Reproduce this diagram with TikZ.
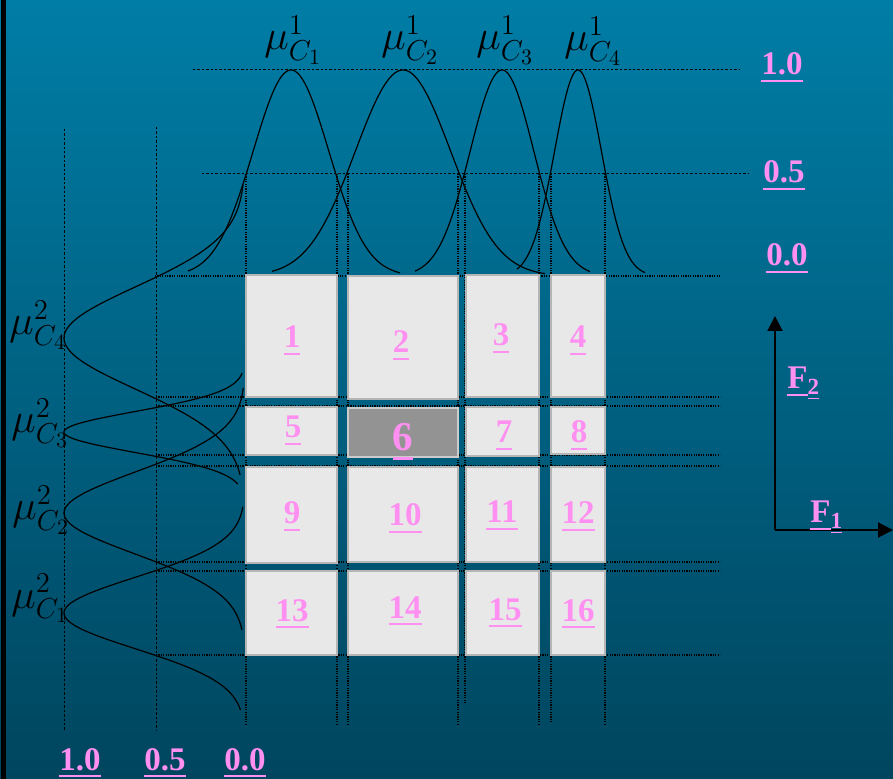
\documentclass[tikz,border=0pt]{standalone}
\usepackage{fontspec}
\setmainfont{Liberation Serif}
\usepackage{tikz}
\usetikzlibrary{arrows.meta, fit}

\definecolor{bgtop}{HTML}{007DA6}
\definecolor{bgbot}{HTML}{00455E}
\definecolor{pinklbl}{HTML}{FF8FF0}
\definecolor{cellfill}{HTML}{E8E8E8}
\definecolor{celledge}{HTML}{B5B5B5}
\definecolor{cellhot}{HTML}{939393}

\newcommand{\pinkul}[1]{\leavevmode\setbox0=\hbox{#1}\rlap{\rule[-0.21em]{\wd0}{0.06em}}\box0}

\begin{document}
\begin{tikzpicture}[
    x=0.5pt, y=-0.5pt,
    cell/.style={rectangle, draw=celledge, fill=cellfill, line width=0.8pt, inner sep=0pt},
    hot/.style={cell, fill=cellhot, draw=celledge!70},
    num/.style={anchor=base, inner sep=0pt, text=pinklbl, font=\fontsize{16.5}{18}\selectfont\bfseries},
    bignum/.style={num, font=\fontsize{20.5}{22}\selectfont\bfseries},
    mu/.style={anchor=base west, inner sep=0pt, font=\fontsize{21}{24}\selectfont},
    lvl/.style={line width=0.5pt, dash pattern=on 1.2pt off 1pt},
    cut/.style={line width=0.6pt, dash pattern=on 0.6pt off 0.6pt},
    memb/.style={line width=0.6pt, black},
    axis/.style={line width=1pt, -{Triangle[length=7.5pt, width=7.5pt]}}
]
    \useasboundingbox (0,0) rectangle (893,779);
    \shade[top color=bgtop, bottom color=bgbot] (0,0) rectangle (893,779);
    \fill[black] (1,0) rectangle (6,779);

    \draw[lvl] (193,70) -- (740,70);
    \draw[lvl] (202,174) -- (749,174);
    \draw[cut] (155,276) -- (720,276);
    \draw[lvl] (64,129) -- (64,731);
    \draw[lvl] (156,127) -- (156,730);

    \draw[cut] (246,174) -- (246,725);
    \draw[cut] (337,174) -- (337,725);
    \draw[cut] (348,174) -- (348,725);
    \draw[cut] (458,174) -- (458,725);
    \draw[cut] (465,174) -- (465,703);
    \draw[cut] (539,174) -- (539,725);
    \draw[cut] (551,174) -- (551,723);
    \draw[cut] (605,174) -- (605,725);

    \draw[cut] (156,397) -- (720,397);
    \draw[cut] (156,406) -- (720,406);
    \draw[cut] (156,455) -- (720,455);
    \draw[cut] (156,466) -- (720,466);
    \draw[cut] (156,562) -- (720,562);
    \draw[cut] (156,571) -- (720,571);
    \draw[cut] (156,655) -- (720,655);

    \node (c1) [cell, fit={(246,275) (337,397)}] {};
    \node (c2) [cell, fit={(348,276) (458,399)}] {};
    \node (c3) [cell, fit={(466,275) (539,397)}] {};
    \node (c4) [cell, fit={(551,275) (605,397)}] {};
    \node (c5) [cell, fit={(246,407) (337,455)}] {};
    \node (c6) [hot, fit={(348,408) (458,457)}] {};
    \node (c7) [cell, fit={(466,407) (539,456)}] {};
    \node (c8) [cell, fit={(551,407) (605,454)}] {};
    \node (c9) [cell, fit={(246,467) (337,563)}] {};
    \node (c10) [cell, fit={(348,467) (458,562)}] {};
    \node (c11) [cell, fit={(466,467) (539,562)}] {};
    \node (c12) [cell, fit={(551,467) (605,562)}] {};
    \node (c13) [cell, fit={(246,571) (337,655)}] {};
    \node (c14) [cell, fit={(348,571) (458,655)}] {};
    \node (c15) [cell, fit={(466,571) (539,655)}] {};
    \node (c16) [cell, fit={(551,571) (605,655)}] {};

    \node (n1) [num] at (292,348) {\pinkul{1}};
    \node (n2) [num] at (401,353) {\pinkul{2}};
    \node (n3) [num] at (501,346) {\pinkul{3}};
    \node (n4) [num] at (578,348) {\pinkul{4}};
    \node (n5) [num] at (293,438) {\pinkul{5}};
    \node (n6) [bignum] at (403,451) {\pinkul{6}};
    \node (n7) [num] at (504,443) {\pinkul{7}};
    \node (n8) [num] at (579,443) {\pinkul{8}};
    \node (n9) [num] at (292,524) {\pinkul{9}};
    \node (n10) [num] at (405,526) {\pinkul{10}};
    \node (n11) [num] at (502,523) {\pinkul{11}};
    \node (n12) [num] at (578,524) {\pinkul{12}};
    \node (n13) [num] at (292,621) {\pinkul{13}};
    \node (n14) [num] at (405,618) {\pinkul{14}};
    \node (n15) [num] at (505,620) {\pinkul{15}};
    \node (n16) [num] at (578,621) {\pinkul{16}};

    \draw[memb] plot[domain=188:400, samples=90] (\x, {276-206*exp(-0.5*((\x-291)/37.8)^2)});
    \draw[memb] plot[domain=272:545, samples=90] (\x, {276-206*exp(-0.5*((\x-403)/47.6)^2)});
    \draw[memb] plot[domain=415:590, samples=90] (\x, {276-206*exp(-0.5*((\x-502)/31.8)^2)});
    \draw[memb] plot[domain=517:645, samples=90] (\x, {276-206*exp(-0.5*((\x-578)/23.4)^2)});

    \draw[memb] plot[domain=185:475, samples=90] ({245-181*exp(-0.5*((\x-338)/51)^2)}, \x);
    \draw[memb] plot[domain=373:484, samples=90] ({245-181*exp(-0.5*((\x-432)/20.5)^2)}, \x);
    \draw[memb] plot[domain=388:630, samples=90] ({245-181*exp(-0.5*((\x-513)/41)^2)}, \x);
    \draw[memb] plot[domain=507:710, samples=90] ({245-181*exp(-0.5*((\x-613)/35.7)^2)}, \x);

    \node (mu11) [mu] at (264,50) {$\mu^{1}_{C_{1}}$};
    \node (mu12) [mu] at (381,50) {$\mu^{1}_{C_{2}}$};
    \node (mu13) [mu] at (476,50) {$\mu^{1}_{C_{3}}$};
    \node (mu14) [mu] at (564,51) {$\mu^{1}_{C_{4}}$};

    \node (mu24) [mu] at (9,335) {$\mu^{2}_{C_{4}}$};
    \node (mu23) [mu] at (11,433) {$\mu^{2}_{C_{3}}$};
    \node (mu22) [mu] at (12,520) {$\mu^{2}_{C_{2}}$};
    \node (mu21) [mu] at (11,608) {$\mu^{2}_{C_{1}}$};

    \node (top10) [num] at (782,75) {\pinkul{1.0}};
    \node (top05) [num] at (784,183) {\pinkul{0.5}};
    \node (top00) [num] at (787,266) {\pinkul{0.0}};

    \node (bot10) [num] at (80,770) {\pinkul{1.0}};
    \node (bot05) [num] at (165,770) {\pinkul{0.5}};
    \node (bot00) [num] at (245,770) {\pinkul{0.0}};

    \coordinate (o) at (775,530);
    \coordinate (f2end) at (775,316);
    \coordinate (f1end) at (893,530);
    \draw[axis] (o) -- (f2end);
    \draw[axis] (o) -- (f1end);

    \node (f2) [num, anchor=base west] at (787,389) {\pinkul{F}\textsubscript{\pinkul{2}}};
    \node (f1) [num, anchor=base west] at (810,523) {\pinkul{F}\textsubscript{\pinkul{1}}};
\end{tikzpicture}
\end{document}
